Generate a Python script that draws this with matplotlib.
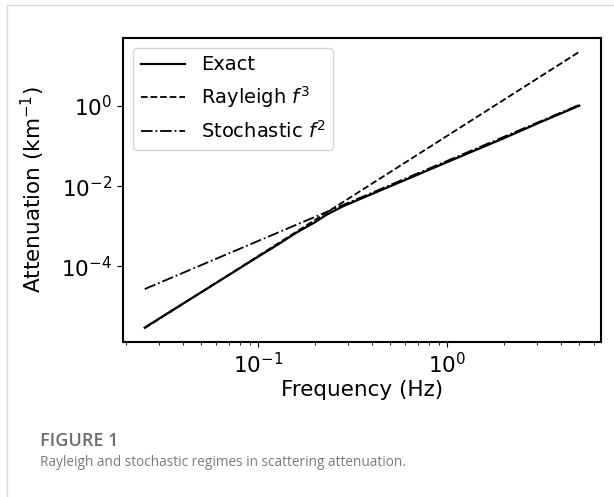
import numpy as np
import matplotlib
matplotlib.use("Agg")
from matplotlib import pyplot as plt
from matplotlib.patches import Rectangle
from matplotlib.ticker import FixedLocator, NullLocator

# values (Hz, km^-1)
freq_exact = [0.0251, 0.0631, 0.1, 0.126, 0.158, 0.2, 0.229, 0.282,
              0.398, 0.631, 1.0, 2.0, 3.16, 5.0]
exact = [2.95e-6, 4.47e-5, 1.74e-4, 3.39e-4, 6.76e-4, 1.26e-3, 1.91e-3,
         3.16e-3, 6.31e-3, 1.58e-2, 3.98e-2, 0.158, 0.407, 1.02]

freq_line = [0.0251, 5.0]
rayleigh = [2.85e-6, 22.5]
stochastic = [2.7e-5, 1.07]

yticks = [1e-4, 1e-2, 1e0]

plt.rcParams["font.size"] = 15.5

fig = plt.figure(figsize=(6.14, 4.97), dpi=100)
W, H = 614, 497

# light page frame around the figure
fig.patches.append(Rectangle((7 / W, -0.1), 1.2, (H - 5) / H + 0.1,
                             transform=fig.transFigure, fill=False,
                             edgecolor="#d8d8d8", linewidth=1.0))

left, right, top, bottom = 123, 601, 38, 342
ax = fig.add_axes([left / W, (H - bottom) / H,
                   (right - left) / W, (bottom - top) / H])

ax.loglog(freq_exact, exact, "k-", lw=1.6, label="Exact")
ax.loglog(freq_line, rayleigh, "k--", lw=1.3, label="Rayleigh $f^3$")
ax.loglog(freq_line, stochastic, "k-.", lw=1.3, label="Stochastic $f^2$")

ax.yaxis.set_major_locator(FixedLocator(yticks))
ax.yaxis.set_minor_locator(NullLocator())
ax.tick_params(axis="y", length=4.5)

ax.set_xlabel("Frequency (Hz)", labelpad=2)
ax.set_ylabel("Attenuation (km$^{-1}$)")
ax.yaxis.set_label_coords(-0.16, 0.5)
for s in ax.spines.values():
    s.set_linewidth(1.5)
ax.legend(loc="upper left", fontsize=14, handlelength=2.3)

fig.text(40 / W, 1 - 441 / H, "FIGURE 1", fontsize=13, color="#6d6d6d",
         fontweight="semibold", family="Open Sans", va="center")
fig.text(40 / W, 1 - 463 / H,
         "Rayleigh and stochastic regimes in scattering attenuation.",
         fontsize=9.8, color="#7a7a7a", family="Open Sans", va="center")

fig.savefig("out.png", dpi=100)
